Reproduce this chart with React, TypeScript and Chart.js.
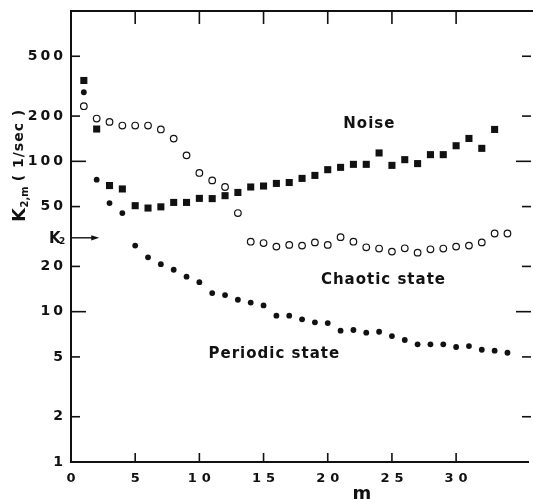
import React, { useEffect, useRef } from "react";
import { Chart, registerables } from "chart.js";

Chart.register(...registerables);

// ---- data ----
const mNoise = [1, 2, 3, 4, 5, 6, 7, 8, 9, 10, 11, 12, 13, 14, 15, 16, 17, 18, 19, 20, 21, 22, 23, 24, 25, 26, 27, 28, 29, 30, 31, 32, 33];
const kNoise = [345, 164, 69, 65.5, 50.7, 48.9, 49.8, 53.3, 53.3, 56.7, 56.5, 59.1, 62.1, 67.5, 68.5, 71.3, 72.3, 77, 80.6, 88, 91.2, 95.5, 95.5, 113.7, 94, 102.6, 96.6, 110.8, 110.8, 127, 142, 122, 163];

const mChaotic = [1, 2, 3, 4, 5, 6, 7, 8, 9, 10, 11, 12, 13, 14, 15, 16, 17, 18, 19, 20, 21, 22, 23, 24, 25, 26, 27, 28, 29, 30, 31, 32, 33, 34];
const kChaotic = [232.6, 192.6, 183, 173, 173, 173, 163, 141.6, 109.6, 83.7, 74.7, 67.5, 45.3, 29.2, 28.6, 27.1, 27.8, 27.5, 28.9, 27.8, 31.3, 29.2, 26.8, 26.3, 25.1, 26.4, 24.7, 26, 26.3, 27.1, 27.5, 28.9, 33.1, 33.1];

const mPeriodic = [1, 2, 3, 4, 5, 6, 7, 8, 9, 10, 11, 12, 13, 14, 15, 16, 17, 18, 19, 20, 21, 22, 23, 24, 25, 26, 27, 28, 29, 30, 31, 32, 33, 34];
const kPeriodic = [288, 75.5, 52.8, 45.3, 27.5, 23, 20.7, 19, 17.1, 15.7, 13.3, 12.9, 12, 11.5, 11, 9.4, 9.4, 8.9, 8.5, 8.4, 7.47, 7.55, 7.25, 7.35, 6.88, 6.48, 6.06, 6.06, 6.06, 5.82, 5.9, 5.58, 5.5, 5.33];

const xTickValues = [0, 5, 10, 15, 20, 25, 30];
const yTickValues = [1, 2, 5, 10, 20, 50, 100, 200, 500];
const yDecadeTicks = [10, 100];
const xMin = 0;
const xMax = 35.6;
const yMin = 1;
const yMax = 1000;

const K2 = 31;
const K2ArrowEndM = 2.2;

const noteText = ["Noise", "Chaotic state", "Periodic state"];
const noteM = [23.2, 24.3, 15.8];
const noteK = [177, 16.2, 5.2];

// ---- styles ----
const FONT = '"DejaVu Sans", "Liberation Sans", sans-serif';
const INK = "#111";

function spaced(scale: any, spacing: number, shift: number) {
  if (scale.__spaced) return;
  scale.__spaced = true;
  const orig = scale.drawLabels;
  scale.drawLabels = function (area: any) {
    const c = this.ctx;
    c.save();
    c.letterSpacing = spacing + "px";
    c.translate(shift, 0);
    orig.call(this, area);
    c.restore();
  };
}

const decor = {
  id: "decor",
  afterDraw(chart: any) {
    const { ctx, chartArea: a, scales } = chart;
    const x = scales.x;
    const y = scales.y;
    const line = (x1: number, y1: number, x2: number, y2: number) => {
      ctx.beginPath();
      ctx.moveTo(x1, y1);
      ctx.lineTo(x2, y2);
      ctx.stroke();
    };
    ctx.save();
    ctx.strokeStyle = INK;
    ctx.fillStyle = INK;

    // top frame line
    ctx.lineWidth = 2;
    line(a.left - 1, a.top, a.right + 5, a.top);

    // inward tick marks
    ctx.lineWidth = 1.6;
    xTickValues.forEach((v) => {
      if (v === xMin) return;
      const px = x.getPixelForValue(v);
      line(px, a.bottom, px, a.bottom - 9);
      line(px, a.top, px, a.top + 13);
    });
    yTickValues.forEach((v) => {
      if (v === yMin) return;
      const py = y.getPixelForValue(v);
      const len = yDecadeTicks.includes(v) ? 15 : 9;
      line(a.left, py, a.left + len, py);
      line(a.right + 3, py, a.right + 3 - len, py);
    });

    // K2 arrow
    const ky = y.getPixelForValue(K2);
    const kx2 = x.getPixelForValue(K2ArrowEndM);
    ctx.lineWidth = 1.4;
    line(a.left, ky, kx2 - 6, ky);
    ctx.beginPath();
    ctx.moveTo(kx2, ky);
    ctx.lineTo(kx2 - 8, ky - 2.6);
    ctx.lineTo(kx2 - 8, ky + 2.6);
    ctx.closePath();
    ctx.fill();

    // K2 label
    ctx.textBaseline = "alphabetic";
    ctx.textAlign = "left";
    ctx.font = `bold 15px ${FONT}`;
    ctx.fillText("K", a.left - 22, ky + 5);
    ctx.font = `bold 9px ${FONT}`;
    ctx.fillText("2", a.left - 12, ky + 6);

    // curve labels
    ctx.font = `bold 15px ${FONT}`;
    ctx.textAlign = "center";
    ctx.textBaseline = "middle";
    (ctx as any).letterSpacing = "1px";
    noteText.forEach((t, i) => {
      ctx.fillText(t, x.getPixelForValue(noteM[i]) + 0.5, y.getPixelForValue(noteK[i]));
    });
    (ctx as any).letterSpacing = "0px";

    // x-axis title
    ctx.font = `bold 18px ${FONT}`;
    ctx.fillText("m", a.left + 291, a.bottom + 32);

    // y-axis title (rotated)
    ctx.save();
    ctx.translate(a.left - 46, 0);
    ctx.rotate(-Math.PI / 2);
    ctx.textAlign = "left";
    ctx.textBaseline = "alphabetic";
    ctx.font = `bold 18px ${FONT}`;
    const startK = -(a.top + 211);
    ctx.fillText("K", startK, 0);
    const wK = ctx.measureText("K").width;
    ctx.font = `bold 10px ${FONT}`;
    ctx.fillText("2,m", startK + wK + 0.5, 3);
    ctx.font = `bold 14px ${FONT}`;
    ctx.textAlign = "center";
    (ctx as any).letterSpacing = "1px";
    ctx.fillText("( 1/sec )", -(a.top + 134), -2);
    (ctx as any).letterSpacing = "0px";
    ctx.restore();

    ctx.restore();
  },
};

export default function App() {
  const ref = useRef<HTMLCanvasElement | null>(null);

  useEffect(() => {
    if (!ref.current) return;
    const chart = new Chart(ref.current, {
      type: "scatter",
      data: {
        datasets: [
          {
            label: "Noise",
            data: mNoise.map((m, i) => ({ x: m, y: kNoise[i] })),
            pointStyle: "rect",
            pointRadius: 5,
            pointHoverRadius: 5,
            backgroundColor: INK,
            borderColor: INK,
            borderWidth: 0,
            showLine: false,
          },
          {
            label: "Chaotic state",
            data: mChaotic.map((m, i) => ({ x: m, y: kChaotic[i] })),
            pointStyle: "circle",
            pointRadius: 3.3,
            pointHoverRadius: 3.3,
            backgroundColor: "#fff",
            borderColor: INK,
            borderWidth: 1.2,
            showLine: false,
          },
          {
            label: "Periodic state",
            data: mPeriodic.map((m, i) => ({ x: m, y: kPeriodic[i] })),
            pointStyle: "circle",
            pointRadius: 2.9,
            pointHoverRadius: 2.9,
            backgroundColor: INK,
            borderColor: INK,
            borderWidth: 0,
            showLine: false,
          },
        ],
      },
      options: {
        animation: false,
        responsive: false,
        layout: { padding: { top: 11, left: 0, right: 0, bottom: 0 } },
        plugins: {
          legend: { display: false },
          tooltip: { enabled: false },
        },
        scales: {
          x: {
            type: "linear",
            min: xMin,
            max: xMax,
            grid: { display: false, drawTicks: false },
            border: { display: true, color: INK, width: 2 },
            ticks: {
              color: INK,
              padding: 9,
              font: { family: FONT, size: 13, weight: "bold" },
              callback: (v: any) => String(v),
            },
            afterBuildTicks: (s: any) => {
              s.ticks = xTickValues.map((v) => ({ value: v }));
            },
            afterFit: (s: any) => {
              s.height = 37;
              spaced(s, 5, 2.5);
            },
          },
          y: {
            type: "logarithmic",
            min: yMin,
            max: yMax,
            grid: { display: false, drawTicks: false },
            border: { display: true, color: INK, width: 2 },
            ticks: {
              color: INK,
              padding: 0,
              font: { family: FONT, size: 14, weight: "bold" },
              callback: (v: any) => String(v),
            },
            afterBuildTicks: (s: any) => {
              s.ticks = yTickValues.map((v) => ({ value: v }));
            },
            afterFit: (s: any) => {
              s.width = 71;
              spaced(s, 3, -5);
            },
          },
        },
      },
      plugins: [decor],
    } as any);
    return () => chart.destroy();
  }, []);

  return (
    <div style={{ position: "absolute", left: 0, top: 0, width: 533, height: 499, background: "#fff" }}>
      <canvas ref={ref} width={533} height={499} style={{ display: "block" }} />
    </div>
  );
}
